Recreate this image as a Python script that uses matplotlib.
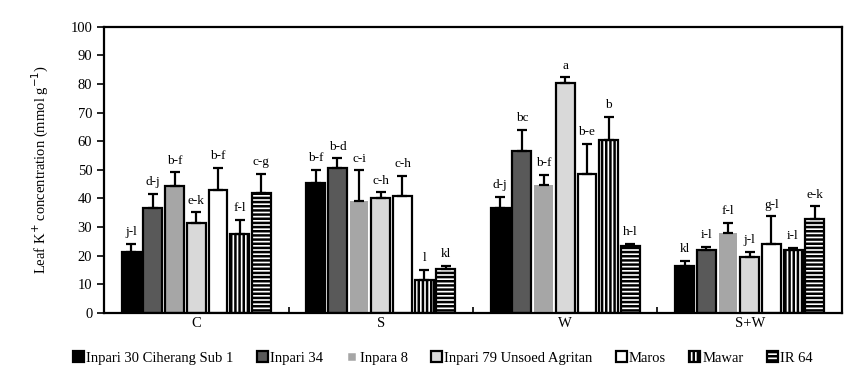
import matplotlib.pyplot as plt
from matplotlib.patches import Rectangle
import numpy as np

plt.rcParams['font.family'] = ['Liberation Serif', 'DejaVu Serif']
plt.rcParams['hatch.linewidth'] = 1.8

groups = ["C", "S", "W", "S+W"]
varieties = ["Inpari 30 Ciherang Sub 1", "Inpari 34", "Inpara 8",
             "Inpari 79 Unsoed Agritan", "Maros", "Mawar", "IR 64"]

# mean values per variety, in group order C, S, W, S+W
means = {
    "Inpari 30 Ciherang Sub 1": [21.3, 45.3, 36.7, 16.3],
    "Inpari 34": [36.8, 50.5, 56.7, 21.9],
    "Inpara 8": [44.5, 39.2, 44.8, 28.1],
    "Inpari 79 Unsoed Agritan": [31.6, 40.1, 80.5, 19.7],
    "Maros": [43.1, 41.0, 48.5, 24.2],
    "Mawar": [27.7, 11.4, 60.4, 21.9],
    "IR 64": [41.9, 15.3, 23.5, 32.8],
}
errors = {
    "Inpari 30 Ciherang Sub 1": [2.8, 4.8, 3.9, 2.0],
    "Inpari 34": [4.9, 3.5, 7.4, 1.2],
    "Inpara 8": [4.6, 10.6, 3.5, 3.5],
    "Inpari 79 Unsoed Agritan": [3.5, 2.0, 1.8, 1.7],
    "Maros": [7.7, 7.0, 10.7, 9.5],
    "Mawar": [4.9, 3.7, 8.1, 0.9],
    "IR 64": [6.8, 1.1, 0.7, 4.4],
}
letters = {
    "Inpari 30 Ciherang Sub 1": ["j-l", "b-f", "d-j", "kl"],
    "Inpari 34": ["d-j", "b-d", "bc", "i-l"],
    "Inpara 8": ["b-f", "c-i", "b-f", "f-l"],
    "Inpari 79 Unsoed Agritan": ["e-k", "c-h", "a", "j-l"],
    "Maros": ["b-f", "c-h", "b-e", "g-l"],
    "Mawar": ["f-l", "l", "b", "i-l"],
    "IR 64": ["c-g", "kl", "h-l", "e-k"],
}

styles = {
    "Inpari 30 Ciherang Sub 1": dict(facecolor="black", edgecolor="black", hatch=None),
    "Inpari 34": dict(facecolor="#595959", edgecolor="black", hatch=None),
    "Inpara 8": dict(facecolor="#a6a6a6", edgecolor="none", hatch=None),
    "Inpari 79 Unsoed Agritan": dict(facecolor="#d9d9d9", edgecolor="black", hatch=None),
    "Maros": dict(facecolor="white", edgecolor="black", hatch=None),
    "Mawar": dict(facecolor="white", edgecolor="black", hatch="||||"),
    "IR 64": dict(facecolor="white", edgecolor="black", hatch="----"),
}

fig = plt.figure(figsize=(8.6, 3.83), dpi=100)
ax = fig.add_axes([0.121, 0.183, 0.858, 0.747])

x = np.arange(len(groups))
step = 0.1176
width = 0.102
handles = []
for i, v in enumerate(varieties):
    pos = x + (i - 3) * step
    st = styles[v]
    bars = ax.bar(pos, means[v], width, color=st["facecolor"], edgecolor=st["edgecolor"],
                  hatch=st["hatch"], linewidth=1.6, label=v, zorder=2)
    if v == "Inpara 8":
        bars[0].set_edgecolor("black")
        handles.append(Rectangle((0, 0), 1, 1, facecolor=st["facecolor"], edgecolor="white",
                                 linewidth=2.5))
    else:
        handles.append(bars)
    ax.errorbar(pos, means[v], yerr=[np.zeros(len(groups)), errors[v]], fmt="none",
                ecolor="black", elinewidth=1.6, capsize=3.4, capthick=1.6, zorder=3)
    for p, m, e, t in zip(pos, means[v], errors[v], letters[v]):
        ax.annotate(t, (p, m + e), xytext=(0, 4), textcoords="offset points",
                    ha="center", va="bottom", fontsize=9.5)

ax.set_xlim(-0.5, 3.5)
ax.set_ylim(0, 100)
ax.set_yticks(range(0, 101, 10))
ax.set_xticks(x)
ax.set_xticklabels(groups)
ax.set_xticks(np.arange(0.5, 3.5, 1), minor=True)
ax.tick_params(axis="x", which="major", length=0, labelsize=10.5, pad=3)
ax.tick_params(axis="x", which="minor", direction="in", length=4, width=1.2)
ax.tick_params(axis="y", direction="out", length=5, width=1.2, labelsize=10.5)
for s in ax.spines.values():
    s.set_linewidth(1.6)
ax.set_ylabel("Leaf K$^{+}$ concentration (mmol g$^{-1}$)", fontsize=10.5, labelpad=14)

fig.legend(handles, varieties, loc="center", bbox_to_anchor=(0.515, 0.065), ncol=7,
           frameon=False, fontsize=10.5, handlelength=0.75, handleheight=0.75,
           handletextpad=0.15, columnspacing=1.6)

plt.savefig("out.png", dpi=100)
